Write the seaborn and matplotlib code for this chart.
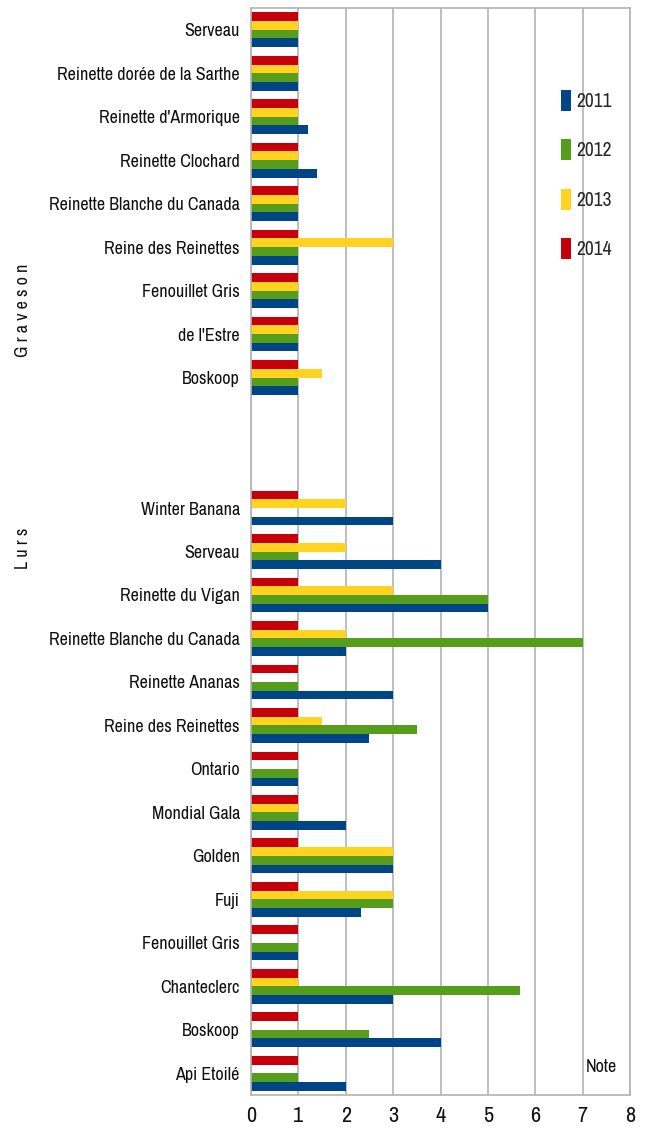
import numpy as np
import pandas as pd
import matplotlib
matplotlib.use("Agg")
import matplotlib.pyplot as plt
import seaborn as sns
from matplotlib.patches import Patch

# ---------------- data ----------------
years = ["2011", "2012", "2013", "2014"]

graveson_varieties = ["Serveau", "Reinette dorée de la Sarthe", "Reinette d'Armorique",
                      "Reinette Clochard", "Reinette Blanche du Canada", "Reine des Reinettes",
                      "Fenouillet Gris", "de l'Estre", "Boskoop"]
graveson_2011 = [1, 1, 1.2, 1.4, 1, 1, 1, 1, 1]
graveson_2012 = [1, 1, 1, 1, 1, 1, 1, 1, 1]
graveson_2013 = [1, 1, 1, 1, 1, 3, 1, 1, 1.5]
graveson_2014 = [1, 1, 1, 1, 1, 1, 1, 1, 1]

lurs_varieties = ["Winter Banana", "Serveau", "Reinette du Vigan", "Reinette Blanche du Canada",
                  "Reinette Ananas", "Reine des Reinettes", "Ontario", "Mondial Gala", "Golden",
                  "Fuji", "Fenouillet Gris", "Chanteclerc", "Boskoop", "Api Etoilé"]
lurs_2011 = [3, 4, 5, 2, 3, 2.5, 1, 2, 3, 2.33, 1, 3, 4, 2]
lurs_2012 = [None, 1, 5, 7, 1, 3.5, 1, 1, 3, 3, 1, 5.67, 2.5, 1]
lurs_2013 = [2, 2, 3, 2, None, 1.5, None, 1, 3, 3, None, 1, None, None]
lurs_2014 = [1, 1, 1, 1, 1, 1, 1, 1, 1, 1, 1, 1, 1, 1]

n_gap = 2
colors = {"2011": "#004586", "2012": "#579d1c", "2013": "#ffd320", "2014": "#c5000b"}

# ---------------- table ----------------
rows = []
for grp, vars_, series in [("Graveson", graveson_varieties,
                            [graveson_2011, graveson_2012, graveson_2013, graveson_2014]),
                           ("Lurs", lurs_varieties,
                            [lurs_2011, lurs_2012, lurs_2013, lurs_2014])]:
    for yr, vals in zip(years, series):
        for v, val in zip(vars_, vals):
            if val is not None:
                rows.append({"key": f"{grp}|{v}", "year": yr, "value": val})
df = pd.DataFrame(rows)

order = ([f"Graveson|{v}" for v in graveson_varieties]
         + [f"gap{i}" for i in range(n_gap)]
         + [f"Lurs|{v}" for v in lurs_varieties])
labels = graveson_varieties + [""] * n_gap + lurs_varieties

# ---------------- plot ----------------
sns.set_style("white")
plt.rcParams["font.family"] = ["Archivo Narrow", "Liberation Sans", "DejaVu Sans"]

W, H = 649, 1143
fig = plt.figure(figsize=(W / 100, H / 100), dpi=100)
ax = fig.add_axes([251 / W, 1 - 1095 / H, (630 - 251) / W, (1095 - 8) / H])

sns.barplot(data=df, y="key", x="value", hue="year", order=order,
            hue_order=["2014", "2013", "2012", "2011"], palette=colors,
            orient="h", errorbar=None, width=0.8, saturation=1,
            edgecolor="none", linewidth=0, legend=False, ax=ax)

grid_c = "#b3b3b3"
txt_c = "#111111"
ax.set_xlim(0, 8)
ax.set_ylim(len(order) - 0.5, -0.5)
ax.set_xticks(range(0, 9))
ax.set_yticks(range(len(order)))
ax.set_yticklabels(labels, fontsize=13)
ax.set_yticks(np.arange(-0.5, len(order), 1), minor=True)
ax.tick_params(axis="y", which="major", length=0, pad=8, colors=txt_c)
ax.tick_params(axis="y", which="minor", length=5, color=grid_c, width=1)
ax.tick_params(axis="x", which="major", length=5, color=grid_c, width=1,
               labelsize=16, pad=3, labelcolor=txt_c)
ax.set_xlabel("")
ax.set_ylabel("")
ax.xaxis.grid(True, color=grid_c, linewidth=1.2)
ax.set_axisbelow(True)
for s in ax.spines.values():
    s.set_color(grid_c)
    s.set_linewidth(1.2)

# group labels
fig.text(23 / W, 1 - 310 / H, "G r a v e s o n", rotation=90, ha="center", va="center",
         fontsize=13, color=txt_c)
fig.text(23 / W, 1 - 548 / H, "L u r s", rotation=90, ha="center", va="center",
         fontsize=13, color=txt_c)

# legend
handles = [Patch(facecolor=colors[y], edgecolor="none", label=y) for y in years]
fig.legend(handles=handles, loc="center left", bbox_to_anchor=(561 / W, 1 - 174.5 / H),
           frameon=False, fontsize=14, handlelength=0.5, handleheight=1.3,
           handletextpad=0.3, labelspacing=1.45, borderpad=0, borderaxespad=0)

fig.text(601 / W, 1 - 1067 / H, "Note", ha="center", va="center", fontsize=13,
         color=txt_c)

fig.savefig("out.png", dpi=100)
